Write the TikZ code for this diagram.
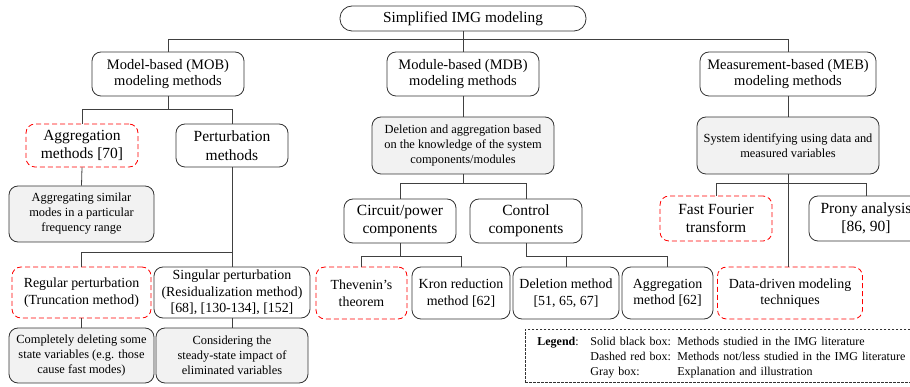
\documentclass[tikz,border=0pt]{standalone}
\usepackage{fontspec}
\setmainfont{Liberation Serif}
\tikzset{
    method/.style={
        draw=black!80,
        line width=0.8pt,
        rounded corners=9pt,
        align=center,
        inner sep=2pt,
    },
    lessmethod/.style={
        method,
        draw=red,
        dash pattern=on 5pt off 3pt,
    },
    explain/.style={
        method,
        fill=black!5,
    },
    size/.style 2 args={
        minimum width=#1,
        minimum height=#2,
    },
    bigtext/.style={font=\fontsize{15.5}{18.5}\selectfont},
    midtext/.style={font=\fontsize{14.5}{16.5}\selectfont},
    methtext/.style={font=\fontsize{13.9}{16.5}\selectfont},
    smalltext/.style={font=\fontsize{12.4}{15}\selectfont},
    link/.style={draw=black!75, line width=0.8pt},
}

\begin{document}
\begin{tikzpicture}[x=1pt, y=-1pt]
            \useasboundingbox (0,0) rectangle (910,387);

            \node[method, size={246pt}{25pt}, rounded corners=12pt, font=\fontsize{15.3}{17}\selectfont]
                at (463, 18.5) (root) {Simplified IMG modeling};

            \node[method, midtext, size={152pt}{44pt}] at (168, 74)  (mob) {Model-based (MOB)\\modeling methods};
            \node[method, midtext, size={152pt}{44pt}] at (463, 74)  (mdb) {Module-based (MDB)\\modeling methods};
            \node[method, midtext, size={176pt}{44pt}] at (788, 74)  (meb) {Measurement-based (MEB)\\modeling methods};

            % model-based branch
            \node[lessmethod, bigtext, size={112pt}{43pt}] at (82, 145.5)  (aggr) {Aggregation\\methods [70]};
            \node[method, bigtext, size={112pt}{43pt}]     at (232, 145.5) (pert) {Perturbation\\methods};
            \node[explain, smalltext, size={145pt}{56pt}]  at (81.5, 214)  (aggrx) {Aggregating similar\\modes in a particular\\frequency range};

            \node[lessmethod, methtext, size={139pt}{51pt}] at (81.5, 292.5) (reg)  {Regular perturbation\\(Truncation method)};
            \node[method, methtext, size={156pt}{51pt}]     at (232, 292.5)  (sing) {Singular perturbation\\(Residualization method)\\{}[68], [130-134], [152]};
            \node[explain, smalltext, size={145pt}{55pt}]   at (81.5, 355.5) (regx) {Completely deleting some\\state variables (e.g. those\\cause fast modes)};
            \node[explain, smalltext, size={152pt}{55pt}]   at (232, 355.5)  (singx) {Considering the\\steady-state impact of\\eliminated variables};

            % module-based branch
            \node[explain, smalltext, size={182pt}{57pt}] at (463, 145.5) (mdbx) {Deletion and aggregation based\\on the knowledge of the system\\components/modules};
            \node[method, bigtext, size={112pt}{44pt}] at (400, 221) (circ) {Circuit/power\\components};
            \node[method, bigtext, size={112pt}{44pt}] at (526, 221) (ctrl) {Control\\components};

            \node[lessmethod, methtext, size={91pt}{52pt}] at (361.5, 293) (thev) {Thevenin’s\\theorem};
            \node[method, methtext, size={98pt}{52pt}]     at (461, 293)   (kron) {Kron reduction\\method [62]};
            \node[method, methtext, size={106pt}{52pt}]    at (566, 293)   (del)  {Deletion method\\{}[51, 65, 67]};
            \node[method, methtext, size={91pt}{52pt}]     at (667.5, 293) (aggm) {Aggregation\\method [62]};

            % measurement-based branch
            \node[explain, smalltext, size={182pt}{57pt}] at (788, 145.5) (mebx) {System identifying using data and\\measured variables};
            \node[lessmethod, bigtext, size={112pt}{45pt}] at (716, 218.5) (fft)   {Fast Fourier\\transform};
            \node[method, bigtext, size={114pt}{45pt}]     at (866, 218.5) (prony) {Prony analysis\\{}[86, 90]};
            \node[lessmethod, methtext, size={145pt}{52pt}] at (790, 293)  (data)  {Data-driven modeling\\techniques};

            % legend
            \node[draw=black!80, line width=0.8pt, dash pattern=on 2.5pt off 1.5pt, anchor=north west,
                  font=\fontsize{12}{15}\selectfont, text width=380pt, inner xsep=12pt, inner ysep=2.75pt]
                at (525, 329) (legend) {%
                \begin{tabular}{@{}p{53pt}@{}p{87pt}@{}l@{}}
                    \rule{0pt}{13pt}\textbf{Legend}: & Solid black box: & Methods studied in the IMG literature\\
                                     & Dashed red box:  & Methods not/less studied in the IMG literature\\
                                     & Gray box:        & Explanation and illustration
                \end{tabular}};

            % connectors
            \draw[link] (root.south) -- ++(0,8) -| (mob.north);
            \draw[link] (root.south) -- ++(0,8) -| (meb.north);
            \draw[link] (root.south) -- (mdb.north);

            \draw[link] (mob.south) -- ++(0,13) -| (aggr.north);
            \draw[link] (mob.south) -- ++(0,13) -| (pert.north);
            \draw[link] (aggr.south) -- (aggrx.north);
            \draw[link] (pert.south) -- ++(0,85) -| (reg.north);
            \draw[link] (pert.south) -- (sing.north);
            \draw[link] (reg.south) -- (regx.north);
            \draw[link] (sing.south) -- (singx.north);

            \draw[link] (mdb.south) -- (mdbx.north);
            \draw[link] (mdbx.south) -- ++(0,9) -| (circ.north);
            \draw[link] (mdbx.south) -- ++(0,9) -| (ctrl.north);
            \draw[link] (circ.south) -- ++(0,13) -| (thev.north);
            \draw[link] (circ.south) -- ++(0,13) -| (kron.north);
            \draw[link] (ctrl.south) -- ++(0,13) -| (del.north);
            \draw[link] (ctrl.south) -- ++(0,13) -| (aggm.north);

            \draw[link] (meb.south) -- (mebx.north);
            \draw[link] (mebx.south) -- ++(0,9) -| (fft.north);
            \draw[link] (mebx.south) -- ++(0,9) -| (prony.north);
            \draw[link] (mebx.south) -- (mebx.south |- data.north);
        \end{tikzpicture}
\end{document}
